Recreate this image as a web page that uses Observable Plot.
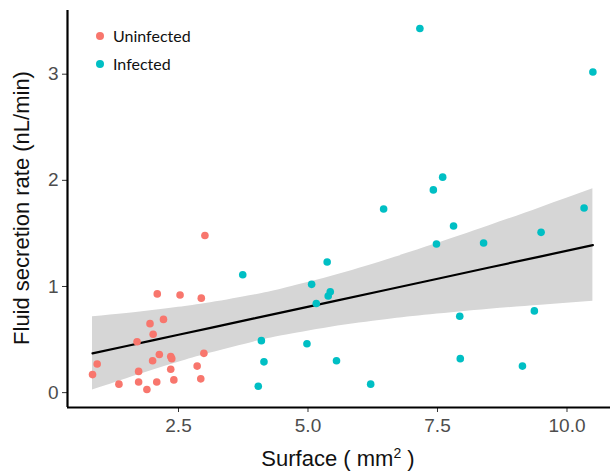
<!DOCTYPE html>
<html>
<head>
<meta charset="utf-8">
<script src="https://cdn.jsdelivr.net/npm/d3@7"></script>
<script src="https://cdn.jsdelivr.net/npm/@observablehq/plot@0.6"></script>
<style>
  html, body { margin: 0; padding: 0; background: #fff; }
  #wrap { position: relative; width: 610px; height: 476px; overflow: hidden; }
  .legend { position: absolute; left: 96px; font-family: Lato, "Open Sans", sans-serif; font-size: 16px; color: #111; display: flex; align-items: center; }
  .legend span.dot { width: 8px; height: 8px; border-radius: 50%; display: inline-block; margin-right: 9px; }
  #xtitle { position: absolute; top: 445px; left: 0; width: 676px; text-align: center; font-family: "Liberation Sans", Arial, sans-serif; font-size: 22px; color: #111; }
  #ytitle { position: absolute; left: 22px; top: 208px; transform: translate(-50%, -50%) rotate(-90deg); white-space: nowrap; font-family: "Liberation Sans", Arial, sans-serif; font-size: 22px; color: #111; }
</style>
</head>
<body>
<div id="wrap"></div>
<script>
// Uninfected: surface (mm^2), fluid secretion rate (nL/min)
const uninfectedX = [3.01, 2.09, 2.53, 2.94, 1.95, 2.21, 2.01, 1.70, 0.93, 0.84, 2.00, 2.13, 2.35, 2.37, 2.99, 1.73, 2.35, 2.86, 1.35, 1.73, 2.08, 2.41, 2.93, 1.89];
const uninfectedY = [1.48, 0.93, 0.92, 0.89, 0.65, 0.69, 0.55, 0.48, 0.27, 0.17, 0.30, 0.36, 0.34, 0.32, 0.37, 0.20, 0.22, 0.25, 0.08, 0.10, 0.10, 0.12, 0.13, 0.03];
// Infected
const infectedX = [7.16, 10.50, 7.60, 7.42, 6.46, 7.81, 10.33, 9.50, 7.48, 8.39, 7.93, 9.37, 7.94, 9.14, 3.74, 5.37, 5.07, 5.39, 5.43, 5.16, 4.10, 4.98, 4.15, 5.55, 4.04, 6.21];
const infectedY = [3.43, 3.02, 2.03, 1.91, 1.73, 1.57, 1.74, 1.51, 1.40, 1.41, 0.72, 0.77, 0.32, 0.25, 1.11, 1.23, 1.02, 0.91, 0.95, 0.84, 0.49, 0.46, 0.29, 0.30, 0.06, 0.08];
const groups = ["Uninfected", "Infected"];
const colors = ["#F8766D", "#00BFC4"];
const xTicks = [2.5, 5.0, 7.5, 10.0];
const yTicks = [0, 1, 2, 3];

// Fitted line and its confidence band
const fitX     = [0.84, 1.5, 2.0, 2.5, 3.12, 3.96, 4.5, 5.44, 6.5, 7.37, 8.5, 9.5, 10.5];
const fitY     = [0.370, 0.439, 0.492, 0.545, 0.610, 0.699, 0.756, 0.855, 0.967, 1.059, 1.179, 1.284, 1.390];
const bandLow  = [0.025, 0.132, 0.211, 0.286, 0.373, 0.478, 0.535, 0.617, 0.687, 0.733, 0.785, 0.823, 0.860];
const bandHigh = [0.715, 0.746, 0.773, 0.804, 0.847, 0.920, 0.977, 1.093, 1.247, 1.385, 1.573, 1.745, 1.920];

const data = [
  ...uninfectedX.map((x, i) => ({x, y: uninfectedY[i], group: groups[0]})),
  ...infectedX.map((x, i) => ({x, y: infectedY[i], group: groups[1]}))
];
const fit = fitX.map((x, i) => ({x, y: fitY[i], lo: bandLow[i], hi: bandHigh[i]}));

const xDomain = [0.357, 10.84];
const yDomain = [-0.14, 3.60];

const chart = Plot.plot({
  width: 610,
  height: 476,
  marginLeft: 67,
  marginRight: 0,
  marginTop: 10,
  marginBottom: 69,
  style: {fontFamily: "'Liberation Sans', Arial, sans-serif", fontSize: "19px", color: "#4d4d4d", background: "#fff"},
  x: {domain: xDomain, ticks: xTicks, tickFormat: d3.format(".1f"), label: null},
  y: {domain: yDomain, ticks: yTicks, tickFormat: d3.format("d"), label: null},
  color: {domain: groups, range: colors},
  marks: [
    Plot.areaY(fit, {x: "x", y1: "lo", y2: "hi", fill: "#d6d6d6", curve: "natural"}),
    Plot.lineY(fit, {x: "x", y: "y", stroke: "#000", strokeWidth: 2.2}),
    Plot.dot(data, {x: "x", y: "y", fill: "group", r: 3.8, stroke: null}),
    Plot.axisX({ticks: xTicks, tickFormat: d3.format(".1f"), tickSize: 5, tickPadding: 6, stroke: "#333", fill: "#4d4d4d", label: null}),
    Plot.axisY({ticks: yTicks, tickFormat: d3.format("d"), tickSize: 5, tickPadding: 4, stroke: "#333", fill: "#4d4d4d", label: null}),
    Plot.ruleY([yDomain[0]], {stroke: "#000", strokeWidth: 2.2}),
    Plot.ruleX([xDomain[0]], {stroke: "#000", strokeWidth: 2.2})
  ]
});

const wrap = document.getElementById("wrap");
wrap.appendChild(chart);

groups.forEach((g, i) => {
  const d = document.createElement("div");
  d.className = "legend";
  d.style.top = (26 + i * 28) + "px";
  d.innerHTML = `<span class="dot" style="background:${colors[i]}"></span>${g}`;
  wrap.appendChild(d);
});

const xt = document.createElement("div");
xt.id = "xtitle";
xt.innerHTML = "Surface ( mm<sup style='font-size:14px'>2</sup> )";
wrap.appendChild(xt);

const yt = document.createElement("div");
yt.id = "ytitle";
yt.textContent = "Fluid secretion rate (nL/min)";
wrap.appendChild(yt);
</script>
</body>
</html>
